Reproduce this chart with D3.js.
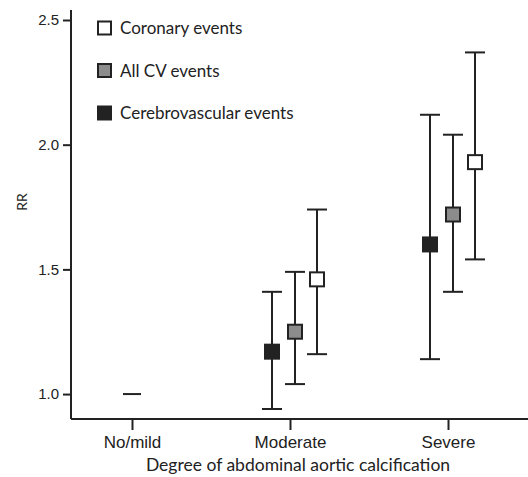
<!DOCTYPE html>
<html lang="en">
<head>
    <meta charset="UTF-8">
    <title>AAC relative risk</title>
    <script src="https://cdn.jsdelivr.net/npm/d3@7"></script>
    <style>
        body { margin: 0; background: #fff; }
        svg { display: block; font-family: Lato, "Open Sans", sans-serif; }
        .axis path, .axis line { stroke: #222; stroke-width: 2px; }
        .axis text { font-size: 16px; fill: #222; }
        .err { stroke: #222; stroke-width: 2px; fill: none; }
        .mark { stroke: #222; stroke-width: 2px; }
        .legend text { font-size: 17px; fill: #222; }
    </style>
</head>
<body>
<svg width="528" height="477"></svg>
<script>
    // categories and series
    var categories = ['No/mild', 'Moderate', 'Severe'];
    var series = ['Cerebrovascular events', 'All CV events', 'Coronary events'];
    var seriesFill = ['#222', '#8c8c8c', '#fff'];

    // relative risk with 95% CI, per series, for Moderate and Severe
    var cerebroRR   = [1.17, 1.60];
    var cerebroLow  = [0.94, 1.14];
    var cerebroHigh = [1.41, 2.12];
    var allRR   = [1.25, 1.72];
    var allLow  = [1.04, 1.41];
    var allHigh = [1.49, 2.04];
    var coronRR   = [1.46, 1.93];
    var coronLow  = [1.16, 1.54];
    var coronHigh = [1.74, 2.37];

    var referenceRR = 1.0; // No/mild
    var yTicks = [1.0, 1.5, 2.0, 2.5];
    var legendOrder = ['Coronary events', 'All CV events', 'Cerebrovascular events'];

    var svg = d3.select('svg');

    var x = d3.scalePoint()
        .domain(categories)
        .range([132, 448]);

    var y = d3.scaleLinear()
        .domain([0.9, 2.5])
        .range([419, 20]);

    // series offset from category centre
    var offset = d3.scaleOrdinal().domain(series).range([-18, 5, 27]);

    // y axis
    var yAxis = d3.axisLeft(y)
        .tickValues(yTicks)
        .tickFormat(d3.format('.1f'))
        .tickSize(8)
        .tickSizeOuter(0);
    var yG = svg.append('g')
        .attr('class', 'axis')
        .attr('transform', 'translate(71,0)')
        .call(yAxis);
    yG.select('.domain').attr('d', 'M0,10V' + y(0.9));
    yG.selectAll('text').attr('x', -12).style('font-size', '15px');

    // x axis
    var xAxis = d3.axisBottom(x).tickSize(11).tickSizeOuter(0);
    var xG = svg.append('g')
        .attr('class', 'axis')
        .attr('transform', 'translate(0,' + y(0.9) + ')')
        .call(xAxis);
    xG.select('.domain').attr('d', 'M71,0H528');
    xG.selectAll('text').attr('y', 17).style('font-size', '17px');

    svg.append('text')
        .attr('x', 298)
        .attr('y', 471)
        .attr('text-anchor', 'middle')
        .style('font-size', '17.5px')
        .style('fill', '#222')
        .text('Degree of abdominal aortic calcification');

    svg.append('text')
        .attr('transform', 'translate(27,202) rotate(-90)')
        .attr('text-anchor', 'middle')
        .style('font-size', '14px')
        .style('fill', '#222')
        .text('RR');

    // reference line for No/mild
    svg.append('line')
        .attr('class', 'err')
        .attr('x1', x('No/mild') - 9)
        .attr('x2', x('No/mild') + 9)
        .attr('y1', y(referenceRR))
        .attr('y2', y(referenceRR));

    var points = [];
    var groups = ['Moderate', 'Severe'];
    var vals = [
        [cerebroRR, cerebroLow, cerebroHigh],
        [allRR, allLow, allHigh],
        [coronRR, coronLow, coronHigh]
    ];
    groups.forEach(function (g, gi) {
        series.forEach(function (s, si) {
            points.push({
                cat: g,
                series: s,
                fill: seriesFill[si],
                rr: vals[si][0][gi],
                low: vals[si][1][gi],
                high: vals[si][2][gi]
            });
        });
    });

    var capW = 10;
    var sq = 14;
    var pg = svg.append('g');

    pg.selectAll('line.whisker')
        .data(points)
        .enter()
        .append('line')
        .attr('class', 'err')
        .attr('x1', function (d) { return x(d.cat) + offset(d.series); })
        .attr('x2', function (d) { return x(d.cat) + offset(d.series); })
        .attr('y1', function (d) { return y(d.low); })
        .attr('y2', function (d) { return y(d.high); });

    ['low', 'high'].forEach(function (k) {
        pg.selectAll('line.cap-' + k)
            .data(points)
            .enter()
            .append('line')
            .attr('class', 'err cap-' + k)
            .attr('x1', function (d) { return x(d.cat) + offset(d.series) - capW; })
            .attr('x2', function (d) { return x(d.cat) + offset(d.series) + capW; })
            .attr('y1', function (d) { return y(d[k]); })
            .attr('y2', function (d) { return y(d[k]); });
    });

    pg.selectAll('rect')
        .data(points)
        .enter()
        .append('rect')
        .attr('class', 'mark')
        .attr('x', function (d) { return x(d.cat) + offset(d.series) - sq / 2; })
        .attr('y', function (d) { return y(d.rr) - sq / 2; })
        .attr('width', sq)
        .attr('height', sq)
        .style('fill', function (d) { return d.fill; });

    // legend
    var legend = svg.append('g').attr('class', 'legend');
    legendOrder.forEach(function (name, i) {
        var row = legend.append('g')
            .attr('transform', 'translate(98,' + (28 + i * 42.5) + ')');
        row.append('rect')
            .attr('class', 'mark')
            .attr('x', 0)
            .attr('y', -6.5)
            .attr('width', 13)
            .attr('height', 13)
            .style('fill', seriesFill[series.indexOf(name)]);
        row.append('text')
            .attr('x', 22)
            .attr('y', 6)
            .text(name);
    });
</script>
</body>
</html>
